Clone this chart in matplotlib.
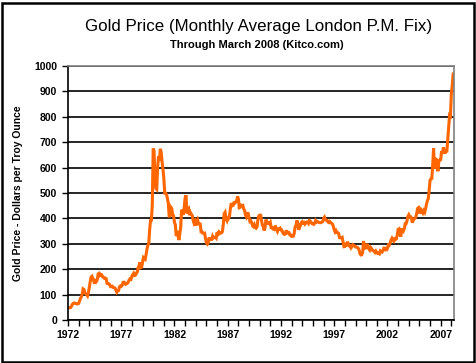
import numpy as np
import matplotlib
matplotlib.use("Agg")
from matplotlib import pyplot as plt
from matplotlib.patches import Rectangle

# Monthly average London P.M. fix, USD per troy ounce (Jan 1972 - Mar 2008)
p1972 = [48.4, 48.3, 48.3, 49.0, 54.6, 62.1, 65.7, 67.0, 65.5, 64.9, 63.0, 63.9]
p1973 = [65.1, 74.2, 84.4, 90.5, 102.0, 122.5, 120.2, 106.8, 103.0, 100.1, 94.8, 106.7]
p1974 = [129.2, 150.2, 168.4, 172.2, 163.3, 154.1, 142.9, 154.6, 151.8, 158.8, 181.7, 183.9]
p1975 = [176.3, 179.6, 178.2, 169.9, 167.4, 164.3, 165.1, 163.0, 144.1, 142.8, 142.8, 139.3]
p1976 = [131.4, 131.0, 132.6, 128.2, 126.9, 125.7, 117.8, 109.3, 114.3, 116.0, 130.6, 133.9]
p1977 = [132.3, 136.3, 148.2, 149.1, 146.6, 140.8, 143.4, 144.8, 149.7, 158.7, 162.3, 160.5]
p1978 = [173.1, 178.2, 183.7, 175.1, 176.3, 183.7, 188.7, 206.1, 212.9, 227.3, 206.1, 207.8]
p1979 = [227.3, 245.7, 242.1, 239.2, 257.5, 279.1, 294.7, 300.8, 355.2, 391.7, 392.5, 455.1]
p1980 = [675.3, 665.3, 553.6, 517.4, 513.8, 600.7, 644.3, 626.5, 674.0, 661.1, 623.5, 594.9]
p1981 = [557.6, 500.0, 499.8, 494.7, 479.7, 460.8, 409.3, 410.3, 443.1, 437.8, 413.4, 410.1]
p1982 = [384.0, 374.2, 330.4, 350.5, 333.9, 314.9, 339.1, 364.2, 434.4, 422.4, 414.0, 444.3]
p1983 = [481.2, 491.0, 419.6, 432.6, 437.5, 412.9, 422.7, 416.3, 411.7, 393.5, 381.7, 388.1]
p1984 = [370.9, 386.4, 394.4, 381.6, 377.8, 377.8, 347.4, 347.8, 341.7, 340.5, 341.5, 320.0]
p1985 = [303.0, 298.7, 304.0, 324.9, 316.6, 316.5, 317.3, 330.1, 323.5, 325.1, 325.5, 321.9]
p1986 = [345.4, 339.0, 346.0, 340.4, 342.5, 342.9, 348.2, 376.7, 417.9, 423.6, 398.8, 391.8]
p1987 = [408.3, 401.0, 408.9, 438.4, 460.2, 449.6, 450.6, 461.0, 460.2, 465.4, 466.9, 486.3]
p1988 = [477.8, 442.1, 443.6, 452.1, 451.3, 451.6, 437.5, 431.4, 413.0, 406.4, 419.6, 419.5]
p1989 = [404.0, 387.8, 390.2, 384.0, 371.0, 367.6, 375.0, 365.4, 361.8, 366.9, 394.3, 409.4]
p1990 = [410.1, 416.8, 393.1, 374.3, 369.0, 352.3, 362.5, 394.9, 389.2, 380.8, 381.4, 378.2]
p1991 = [383.7, 363.8, 363.3, 358.4, 356.8, 366.7, 367.7, 356.3, 348.7, 358.5, 359.6, 361.8]
p1992 = [354.5, 353.9, 344.3, 338.6, 337.2, 340.8, 353.1, 342.9, 345.4, 344.4, 335.0, 334.8]
p1993 = [329.0, 329.4, 330.1, 342.2, 367.2, 371.9, 392.0, 379.8, 355.3, 364.2, 373.9, 383.3]
p1994 = [387.0, 382.0, 384.0, 377.3, 381.4, 385.6, 385.5, 380.4, 391.6, 389.8, 384.4, 379.3]
p1995 = [378.6, 376.5, 382.1, 391.0, 385.2, 387.6, 386.2, 383.7, 383.1, 383.1, 385.3, 387.4]
p1996 = [400.0, 405.0, 396.2, 392.9, 391.8, 385.3, 383.5, 387.5, 383.1, 381.1, 377.9, 369.0]
p1997 = [355.0, 346.6, 351.8, 344.5, 343.8, 340.8, 324.1, 324.0, 322.8, 324.9, 306.0, 288.7]
p1998 = [289.3, 297.5, 295.9, 308.3, 299.1, 292.3, 292.9, 284.1, 289.0, 296.1, 293.8, 291.6]
p1999 = [287.3, 287.2, 285.9, 282.6, 276.4, 261.3, 256.2, 256.7, 264.7, 310.7, 293.2, 283.1]
p2000 = [284.6, 300.0, 286.4, 280.0, 275.3, 285.7, 281.6, 274.5, 273.7, 270.6, 266.0, 271.5]
p2001 = [265.5, 261.9, 263.0, 260.5, 272.4, 270.2, 267.5, 272.4, 283.4, 283.1, 276.2, 275.9]
p2002 = [281.7, 295.5, 294.0, 302.7, 314.5, 321.2, 313.3, 310.3, 319.2, 316.6, 319.2, 333.4]
p2003 = [356.9, 359.0, 340.6, 328.2, 355.7, 356.4, 351.0, 359.8, 378.9, 378.9, 389.9, 407.6]
p2004 = [414.0, 405.3, 406.7, 403.0, 383.4, 392.0, 398.1, 400.5, 405.3, 420.5, 439.4, 442.1]
p2005 = [424.0, 423.4, 434.2, 429.2, 421.9, 430.7, 424.5, 437.9, 456.0, 469.9, 476.7, 509.8]
p2006 = [549.9, 555.0, 557.1, 610.6, 675.4, 596.2, 633.7, 632.6, 598.2, 585.8, 627.8, 629.8]
p2007 = [631.2, 664.8, 654.9, 679.4, 666.9, 655.5, 665.3, 665.4, 712.7, 754.6, 806.3, 803.2]
p2008 = [889.6, 922.3, 968.4]

years = list(range(1972, 2009))
label_years = [1972, 1977, 1982, 1987, 1992, 1997, 2002, 2007]


def main():
    prices = np.array(
        p1972 + p1973 + p1974 + p1975 + p1976 + p1977 + p1978 + p1979 + p1980
        + p1981 + p1982 + p1983 + p1984 + p1985 + p1986 + p1987 + p1988 + p1989
        + p1990 + p1991 + p1992 + p1993 + p1994 + p1995 + p1996 + p1997 + p1998
        + p1999 + p2000 + p2001 + p2002 + p2003 + p2004 + p2005 + p2006 + p2007
        + p2008
    )
    t = 1972 + np.arange(len(prices)) / 12.0

    plt.rcParams['font.family'] = ['Liberation Sans', 'DejaVu Sans']

    fig = plt.figure(figsize=(4.77, 3.63), dpi=100)
    ax = fig.add_axes([68 / 477, 1 - 320 / 363, 386 / 477, 254 / 363])

    ax.plot(t, prices, color='#FF6600', linewidth=2.2, solid_joinstyle='miter')

    ax.set_xlim(1972, 1972 + len(prices) / 12.0)
    ax.set_ylim(0, 1000)
    ax.set_yticks(range(0, 1001, 100))
    ax.set_xticks(years)
    ax.set_xticklabels([str(y) if y in label_years else '' for y in years])
    ax.yaxis.grid(True, color='black', linewidth=1.2)
    ax.set_axisbelow(True)

    for lab in ax.get_xticklabels() + ax.get_yticklabels():
        lab.set_fontweight('bold')
        lab.set_fontsize(7.5)
    ax.tick_params(axis='both', direction='out', length=4, width=1, color='black')
    ax.tick_params(axis='x', pad=3)
    ax.tick_params(axis='y', pad=4)

    ax.spines['left'].set_color('black')
    ax.spines['bottom'].set_color('black')
    ax.spines['top'].set_color('#808080')
    ax.spines['right'].set_color('#808080')
    for s in ax.spines.values():
        s.set_linewidth(1.2)

    ax.set_ylabel('Gold Price - Dollars per Troy Ounce', fontsize=7.5,
                  fontweight='bold', labelpad=8)

    fig.text(259 / 477, 1 - 27 / 363, 'Gold Price (Monthly Average London P.M. Fix)',
             ha='center', va='center', fontsize=12.2)
    fig.text(257 / 477, 1 - 45 / 363, 'Through March 2008 (Kitco.com)',
             ha='center', va='center', fontsize=8, fontweight='bold')

    fig.patches.append(Rectangle((1.5 / 477, 1.5 / 363), 473 / 477, 359 / 363,
                                 transform=fig.transFigure, fill=False,
                                 edgecolor='black', linewidth=1.8))

    fig.savefig('out.png', dpi=100)
    plt.close(fig)


if __name__ == "__main__":
    main()
